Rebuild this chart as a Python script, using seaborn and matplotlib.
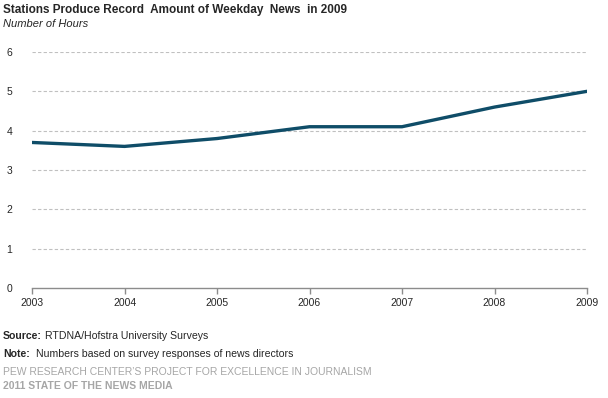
import matplotlib
matplotlib.use("Agg")
import matplotlib.pyplot as plt
import seaborn as sns
import pandas as pd

# ── data ──────────────────────────────────────────────────────────────────────
years = [2003, 2004, 2005, 2006, 2007, 2008, 2009]
hours = [3.7, 3.6, 3.8, 4.1, 4.1, 4.6, 5.0]
y_ticks = [0, 1, 2, 3, 4, 5, 6]

df = pd.DataFrame({"year": years, "hours": hours})

sns.set_style("white")
plt.rcParams["font.family"] = ["Liberation Sans", "DejaVu Sans"]

fig = plt.figure(figsize=(6.08, 3.98), dpi=100)
ax = fig.add_axes([32 / 608, 1 - 288 / 398, 555 / 608, 236 / 398])

sns.lineplot(data=df, x="year", y="hours", ax=ax, color="#0f4d68",
             linewidth=2.4, solid_joinstyle="round", solid_capstyle="round")

ax.set_xlim(years[0], years[-1])
ax.set_ylim(0, 6)
ax.set_xticks(years)
ax.set_xticklabels([str(y) for y in years], fontsize=7.5)
ax.set_yticks(y_ticks)
ax.set_yticklabels([str(t) for t in y_ticks], fontsize=7.5)
ax.set_xlabel("")
ax.set_ylabel("")

for t in y_ticks[1:]:
    ax.axhline(t, color="#c0c0c0", linewidth=0.8, linestyle=(0, (3, 2)), zorder=0)

for side in ["top", "right", "left"]:
    ax.spines[side].set_visible(False)
ax.spines["bottom"].set_color("#8c8c8c")
ax.spines["bottom"].set_linewidth(1.0)
ax.tick_params(axis="x", direction="out", length=4, width=1, color="#8c8c8c", pad=3, bottom=True)
ax.tick_params(axis="y", length=0, pad=14)

# ── texts ─────────────────────────────────────────────────────────────────────
def ftxt(x, y, s, **kw):
    fig.text(x / 608, 1 - y / 398, s, va="center", ha="left", **kw)

ftxt(3, 10, "Stations Produce Record  Amount of Weekday  News  in 2009",
     fontsize=8.5, fontweight="bold")
ftxt(3, 24, "Number of Hours", fontsize=8, style="italic")

ftxt(3, 336, "Source:", fontsize=7.6, fontweight="bold")
ftxt(45, 336, "RTDNA/Hofstra University Surveys", fontsize=7.6)
ftxt(3, 354, "Note:", fontsize=7.6, fontweight="bold")
ftxt(36, 354, "Numbers based on survey responses of news directors", fontsize=7.6)
ftxt(3, 372, "PEW RESEARCH CENTER\u2019S PROJECT FOR EXCELLENCE IN JOURNALISM",
     fontsize=7.5, color="#a6a6a6")
ftxt(3, 386, "2011 STATE OF THE NEWS MEDIA", fontsize=7.5, color="#a6a6a6",
     fontweight="bold")

fig.savefig("out.png", dpi=100)
